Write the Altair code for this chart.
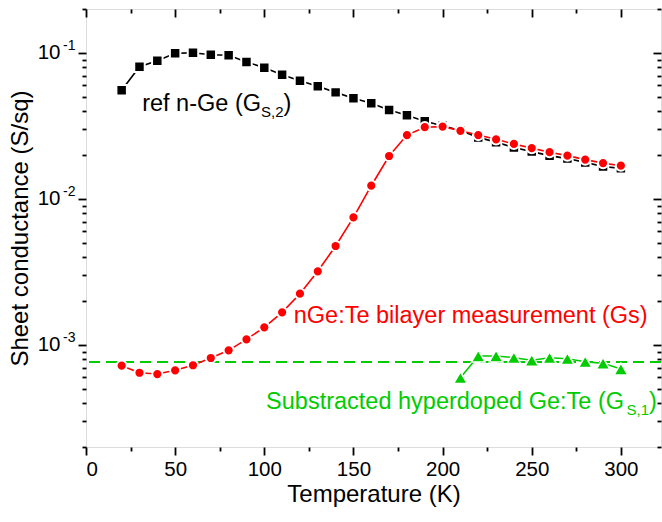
import altair as alt
import pandas as pd

# ---- measured sheet conductance (S/sq) vs temperature (K) ----
temps = [20, 30, 40, 50, 60, 70, 80, 90, 100, 110, 120, 130, 140, 150, 160,
         170, 180, 190, 200, 210, 220, 230, 240, 250, 260, 270, 280, 290, 300]
g_ref = [0.0555, 0.0805, 0.0885, 0.0994, 0.1004, 0.0973, 0.0964, 0.0867, 0.0793,
         0.0710, 0.0645, 0.0591, 0.0537, 0.0489, 0.0452, 0.0407, 0.0374, 0.0340,
         0.0317, 0.0294, 0.0264, 0.0245, 0.0225, 0.0211, 0.0198, 0.0189, 0.0178,
         0.0167, 0.0162]
g_bilayer = [7.21e-4, 6.45e-4, 6.32e-4, 6.70e-4, 7.26e-4, 8.14e-4, 9.19e-4, 1.093e-3,
             1.321e-3, 1.673e-3, 2.244e-3, 3.194e-3, 4.76e-3, 7.48e-3, 0.01232,
             0.01968, 0.0274, 0.0310, 0.0313, 0.0293, 0.0274, 0.0256, 0.0238,
             0.0223, 0.0209, 0.0198, 0.0186, 0.0176, 0.0169]
temps_hd = [210, 220, 230, 240, 250, 260, 270, 280, 290, 300]
g_hd = [5.97e-4, 8.40e-4, 8.40e-4, 8.18e-4, 7.85e-4, 8.18e-4, 8.05e-4, 7.68e-4,
        7.48e-4, 6.84e-4]
g_hd_level = [7.64e-4]

# ---- axis ticks ----
x_major = [0, 50, 100, 150, 200, 250, 300]
x_minor = [25, 75, 125, 175, 225, 275]
y_major = [1e-3, 1e-2, 1e-1]
y_minor = [2e-4, 3e-4, 4e-4, 5e-4, 6e-4, 7e-4, 8e-4, 9e-4,
           2e-3, 3e-3, 4e-3, 5e-3, 6e-3, 7e-3, 8e-3, 9e-3,
           2e-2, 3e-2, 4e-2, 5e-2, 6e-2, 7e-2, 8e-2, 9e-2, 0.2]

x_title = "Temperature (K)"
y_title = "Sheet conductance (S/sq)"

# ---- annotation texts: (main, subscript, closing) ----
label_ref = ("ref n-Ge (G", "S,2", ")")
label_bilayer = ("nGe:Te bilayer measurement (Gs)", "", "")
label_hd = ("Substracted hyperdoped Ge:Te (G", "S,1", ")")

FONT = "Liberation Sans"
W, H = 575, 438
RED = "#ff0000"
GREEN = "#00cc00"
TITLE = 24
NOTE = 23.5

# Arial / Liberation Sans advance widths (per 1000 em)
ADV = {" ": 278, "(": 333, ")": 333, ",": 278, "-": 333, ":": 278, "1": 556, "2": 556,
       "G": 778, "S": 667, "T": 611, "a": 556, "b": 556, "c": 500, "d": 556, "e": 556,
       "f": 278, "h": 556, "i": 222, "l": 222, "m": 833, "n": 556, "o": 556, "p": 556,
       "r": 333, "s": 500, "t": 278, "u": 556, "y": 500}


def text_w(s, size):
    return sum(ADV.get(c, 556) for c in s) * size / 1000.0


xs = alt.Scale(domain=[0, 322.5], nice=False, zero=False)
ys = alt.Scale(type="log", domain=[2e-4, 0.2], nice=False)

common = dict(grid=False, domain=False, tickColor="black", tickWidth=1.8,
              labelFont=FONT, titleFont=FONT, labelColor="black", titleColor="black")


def ax(**kw):
    opts = dict(common)
    opts.update(kw)
    return alt.Axis(**opts)


# x axes: labelled bottom axis, minor ticks, mirrored inward ticks along the top
ax_bottom = ax(orient="bottom", values=x_major, tickSize=8, labelFontSize=20.5,
               labelBaseline="alphabetic", labelPadding=20, title=x_title,
               titleFontSize=TITLE, titleFontWeight="normal", titleBaseline="alphabetic",
               titleX=W / 2, titleY=54, titleAlign="center")
ax_bottom_minor = ax(orient="bottom", values=x_minor, tickSize=4, labels=False, title=None)
ax_top = ax(orient="bottom", offset=-H, values=x_major, tickSize=8, labels=False, title=None)
ax_top_minor = ax(orient="bottom", offset=-H, values=x_minor, tickSize=4, labels=False,
                  title=None)

# y axes (labels drawn as "10" plus a raised exponent), mirrored inward ticks on the right
ax_left = ax(orient="left", values=y_major, tickSize=8, labelExpr="'10'",
             labelFontSize=20.5, labelPadding=18, labelBaseline="middle",
             title=y_title, titleFontSize=TITLE, titleFontWeight="normal",
             titleBaseline="alphabetic", titleAngle=-90, titleX=-59, titleY=H / 2,
             titleAlign="center")
ax_left_exp = ax(orient="left", values=y_major, tickSize=8, tickOpacity=0,
                 labelExpr="datum.value < 0.005 ? '-3' : (datum.value < 0.05 ? '-2' : '-1')",
                 labelFontSize=14, labelPadding=3, labelBaseline="middle", labelOffset=-7,
                 title=None)
ax_left_minor = ax(orient="left", values=y_minor, tickSize=4, labels=False, title=None)
ax_right = ax(orient="left", offset=-W, values=y_major, tickSize=8, labels=False, title=None)
ax_right_minor = ax(orient="left", offset=-W, values=y_minor, tickSize=4, labels=False,
                    title=None)

ref_df = pd.DataFrame({"T": temps, "G": g_ref})
bil_df = pd.DataFrame({"T": temps, "G": g_bilayer})
hd_df = pd.DataFrame({"T": temps_hd, "G": g_hd})
lvl_df = pd.DataFrame({"G": g_hd_level})


def X(axis=None):
    return alt.X("T:Q", scale=xs, axis=axis)


def Y(axis=None):
    return alt.Y("G:Q", scale=ys, axis=axis)


level = alt.Chart(lvl_df).mark_rule(color=GREEN, strokeWidth=2, strokeDash=[11, 6]).encode(
    y=Y(ax_left))
# an invisible layer carries the labelled bottom axis and the exponent labels
frame = alt.Chart(ref_df).mark_point(opacity=0).encode(x=X(ax_bottom), y=Y(ax_left_exp))

ref_line = alt.Chart(ref_df).mark_line(color="black", strokeWidth=1.6).encode(
    x=X(ax_bottom_minor), y=Y(ax_left_minor))
ref_pts = alt.Chart(ref_df).mark_point(shape="square", filled=True, fill="black",
                                       stroke="white", strokeWidth=2, size=110,
                                       opacity=1).encode(
    x=X(ax_top), y=Y(ax_right))
bil_line = alt.Chart(bil_df).mark_line(color=RED, strokeWidth=1.6).encode(
    x=X(ax_top_minor), y=Y(ax_right_minor))
bil_pts = alt.Chart(bil_df).mark_point(shape="circle", filled=True, fill=RED,
                                       stroke="white", strokeWidth=2, size=104,
                                       opacity=1).encode(x=X(), y=Y())
hd_line = alt.Chart(hd_df).mark_line(color=GREEN, strokeWidth=1.6).encode(x=X(), y=Y())
hd_pts = alt.Chart(hd_df).mark_point(shape="triangle-up", filled=True, fill=GREEN,
                                     stroke="white", strokeWidth=1.5, size=185,
                                     opacity=1).encode(x=X(), y=Y())


def annotation(parts, t, g, color, size=NOTE, sub_size=15, sub_dy=6):
    main, sub, close = parts
    src = pd.DataFrame({"T": [t], "G": [g]})
    pieces = [(main, size, 0), (sub, sub_size, sub_dy), (close, size, 0)]
    layers = []
    dx = 0.0
    for txt, sz, dy in pieces:
        if not txt:
            continue
        layers.append(alt.Chart(src).mark_text(
            text=txt, font=FONT, fontSize=sz, color=color, align="left",
            baseline="alphabetic", dx=dx, dy=dy).encode(x=X(), y=Y()))
        dx += text_w(txt, sz)
    return layers


texts = (annotation(label_ref, 31.5, 0.0402, "black")
         + annotation(label_bilayer, 116.5, 1.414e-3, RED)
         + annotation(label_hd, 101.0, 3.64e-4, GREEN))

chart = alt.layer(frame, level, ref_line, ref_pts, bil_line, bil_pts, hd_line, hd_pts,
                  *texts).resolve_axis(x="independent", y="independent").properties(
    width=W, height=H, autosize="none",
    padding={"left": 86, "top": 9, "right": 1, "bottom": 75},
).configure_view(stroke="black", strokeWidth=2).configure(background="white")

chart.save("out.html", embed_options={"renderer": "svg", "actions": False})
